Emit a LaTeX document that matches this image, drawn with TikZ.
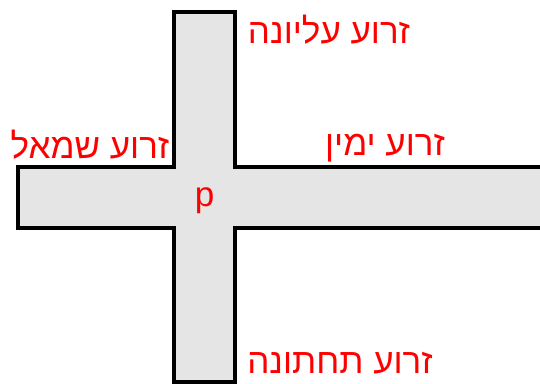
\documentclass[tikz,border=0pt]{standalone}
\usepackage{fontspec}
\setmainfont{Liberation Sans}
\newfontfamily\hebfont[Script=Hebrew]{Liberation Sans}
\TeXXeTstate=1
\begin{document}
\begin{tikzpicture}[x=1pt,y=-1pt,line width=4pt,
  arm/.style={draw=black,fill=black!10,line join=miter},
  lbl/.style={text=red,font=\hebfont\fontsize{35}{40}\selectfont,
              inner sep=0pt,anchor=base}]
  \useasboundingbox (0,0) rectangle (540,383);
  % the cross
  \draw[arm] (174,12) -- (235,12) -- (235,167) -- (546,167) -- (546,228)
    -- (235,228) -- (235,382) -- (174,382) -- (174,228) -- (18,228)
    -- (18,167) -- (174,167) -- cycle;
  \node[lbl] (upper) at (329,43)  {\beginR זרוע עליונה\endR};
  \node[lbl] (left)  at (90,158)  {\beginR זרוע שמאל\endR};
  \node[lbl] (right) at (385,155) {\beginR זרוע ימין\endR};
  \node[lbl] (lower) at (340,373) {\beginR זרוע תחתונה\endR};
  \node[lbl] (p)     at (204.5,206) {p};
\end{tikzpicture}
\end{document}
